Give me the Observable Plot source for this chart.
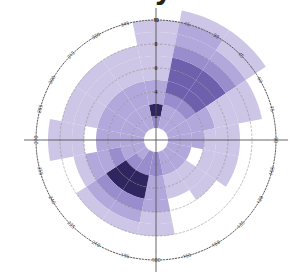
<!DOCTYPE html>
<html><head><meta charset="utf-8">
<script src="https://cdn.jsdelivr.net/npm/d3@7"></script>
<script src="https://cdn.jsdelivr.net/npm/@observablehq/plot@0.6"></script>
<style>
body{margin:0;background:#fff;overflow:hidden;font-family:"DejaVu Sans",sans-serif}
#wrap{position:relative;width:301px;height:273px;overflow:hidden}
#title{position:absolute;top:-27px;left:68px;font:bold 28px "DejaVu Sans",sans-serif;color:#222;white-space:nowrap}
#chart{position:absolute;top:0;left:0}
</style></head><body>
<div id="wrap"><div id="chart"></div><div id="title">Hourly</div></div>
<script>
// 16 compass sectors, clockwise from north
const directions = ["N","NNE","NE","ENE","E","ESE","SE","SSE","S","SSW","SW","WSW","W","WNW","NW","NNW"];
// radial bin edges (inner hole below 1)
const radialEdges = [1,2,3,4,5,6,7,8,9,10,11];
// colour level of each cell, from the centre outwards (0 = empty cell)
const levelsN   = [3,5,2,2,1,1,1,1,1];
const levelsNNE = [2,2,3,4,4,4,3,2,2,1];
const levelsNE  = [2,2,3,4,4,4,3,2,1,1];
const levelsENE = [2,2,2,2,1,1,1,1];
const levelsE   = [2,2,2,1,1,1];
const levelsESE = [2,2,0,1,1,1];
const levelsSE  = [2,2,1,1,1];
const levelsSSE = [2,2,1,1];
const levelsS   = [3,3,2,2,2,1,1];
const levelsSSW = [3,3,5,5,3,2,1];
const levelsSW  = [2,3,5,5,3,2,1];
const levelsWSW = [2,2,3,2,2,1];
const levelsW   = [2,2,2,2,0,1,1,1];
const levelsWNW = [2,2,2,2,1,1,1];
const levelsNW  = [2,2,2,2,1,1,1];
const levelsNNW = [2,2,2,2,1,1,1];
const levels = [levelsN,levelsNNE,levelsNE,levelsENE,levelsE,levelsESE,levelsSE,levelsSSE,
                levelsS,levelsSSW,levelsSW,levelsWSW,levelsW,levelsWNW,levelsNW,levelsNNW];
// radial grid / tick values and labels
const ringTicks = [2,4,6,8];
const ringLabels = ["2","4","6","8","10"];
const ringLabelValues = [2,4,6,8,10];
const outerRing = 10;
const angleTickValues = [0,15,30,45,60,75,90,105,120,135,150,165,180,195,210,225,240,255,270,285,300,315,330,345];
const angleTickLabels = ["0","15","30","45","60","75","90","105","120","135","150","165","180","195","210","225","240","255","270","285","300","315","330","345"];

// radial value -> angular distance from the pole (projection units)
const rad = d3.scaleLinear().domain([0, 1]).range([0, 12]);
const pole = 90;
const lonOf = theta => 180 - theta;          // compass bearing -> longitude
const latOf = v => pole - rad(v);
const sectorWidth = 360 / directions.length;

function cellGeometry(i, k) {
  const t0 = i * sectorWidth - sectorWidth / 2, t1 = t0 + sectorWidth;
  const v0 = radialEdges[k], v1 = radialEdges[k + 1];
  const n = 16, ring = [];
  for (let s = 0; s <= n; s++) { const t = t0 + (t1 - t0) * s / n; ring.push([lonOf(t), latOf(v1)]); }
  for (let s = n; s >= 0; s--) { const t = t0 + (t1 - t0) * s / n; ring.push([lonOf(t), latOf(v0)]); }
  ring.push(ring[0]);
  let g = {type: "Polygon", coordinates: [ring]};
  if (d3.geoArea(g) > 2 * Math.PI) g = {type: "Polygon", coordinates: [ring.slice().reverse()]};
  return g;
}

const cells = [];
levels.forEach((row, i) => row.forEach((lv, k) => {
  if (lv > 0) cells.push({direction: directions[i], level: lv, geometry: cellGeometry(i, k)});
}));

const circle = v => d3.geoCircle().center([0, pole]).radius(rad(v)).precision(1)();
const axisEnds = [0, 90, 180, 270];
const axisLength = 11;

const chart = Plot.plot({
  width: 301, height: 273,
  marginLeft: 22, marginRight: 12, marginTop: 6, marginBottom: 0,
  projection: {type: "azimuthal-equidistant", rotate: [0, -90], domain: circle(11.125)},
  color: {type: "linear", domain: [1,2,3,4,5], range: ["#cdc6e6","#b3a8db","#9a8dcd","#6f60ae","#2f2660"]},
  marks: [
    Plot.geo(cells, {geometry: d => d.geometry, fill: d => d.level, stroke: "none"}),
    Plot.geo(ringTicks.map(circle), {fill: "none", stroke: "#666", strokeOpacity: 0.5, strokeWidth: 0.8, strokeDasharray: "2,2"}),
    Plot.geo([circle(outerRing)], {fill: "none", stroke: "#555", strokeWidth: 1, strokeDasharray: "1.5,1.5"}),
    Plot.link(axisEnds, {x1: 0, y1: pole, x2: d => lonOf(d), y2: latOf(axisLength), stroke: "#555", strokeWidth: 0.9}),
    Plot.text(angleTickValues, {x: d => lonOf(d), y: latOf(outerRing), text: (d, i) => angleTickLabels[i], rotate: d => (d > 90 && d < 270) ? d - 180 : d, fontSize: 5, fill: "#444"}),
    Plot.text(ringLabelValues, {x: 180, y: d => latOf(d), text: (d, i) => ringLabels[i], fontSize: 5, fill: "#333", fontWeight: "bold"})
  ]
});
document.getElementById("chart").appendChild(chart);
</script>
</body></html>
